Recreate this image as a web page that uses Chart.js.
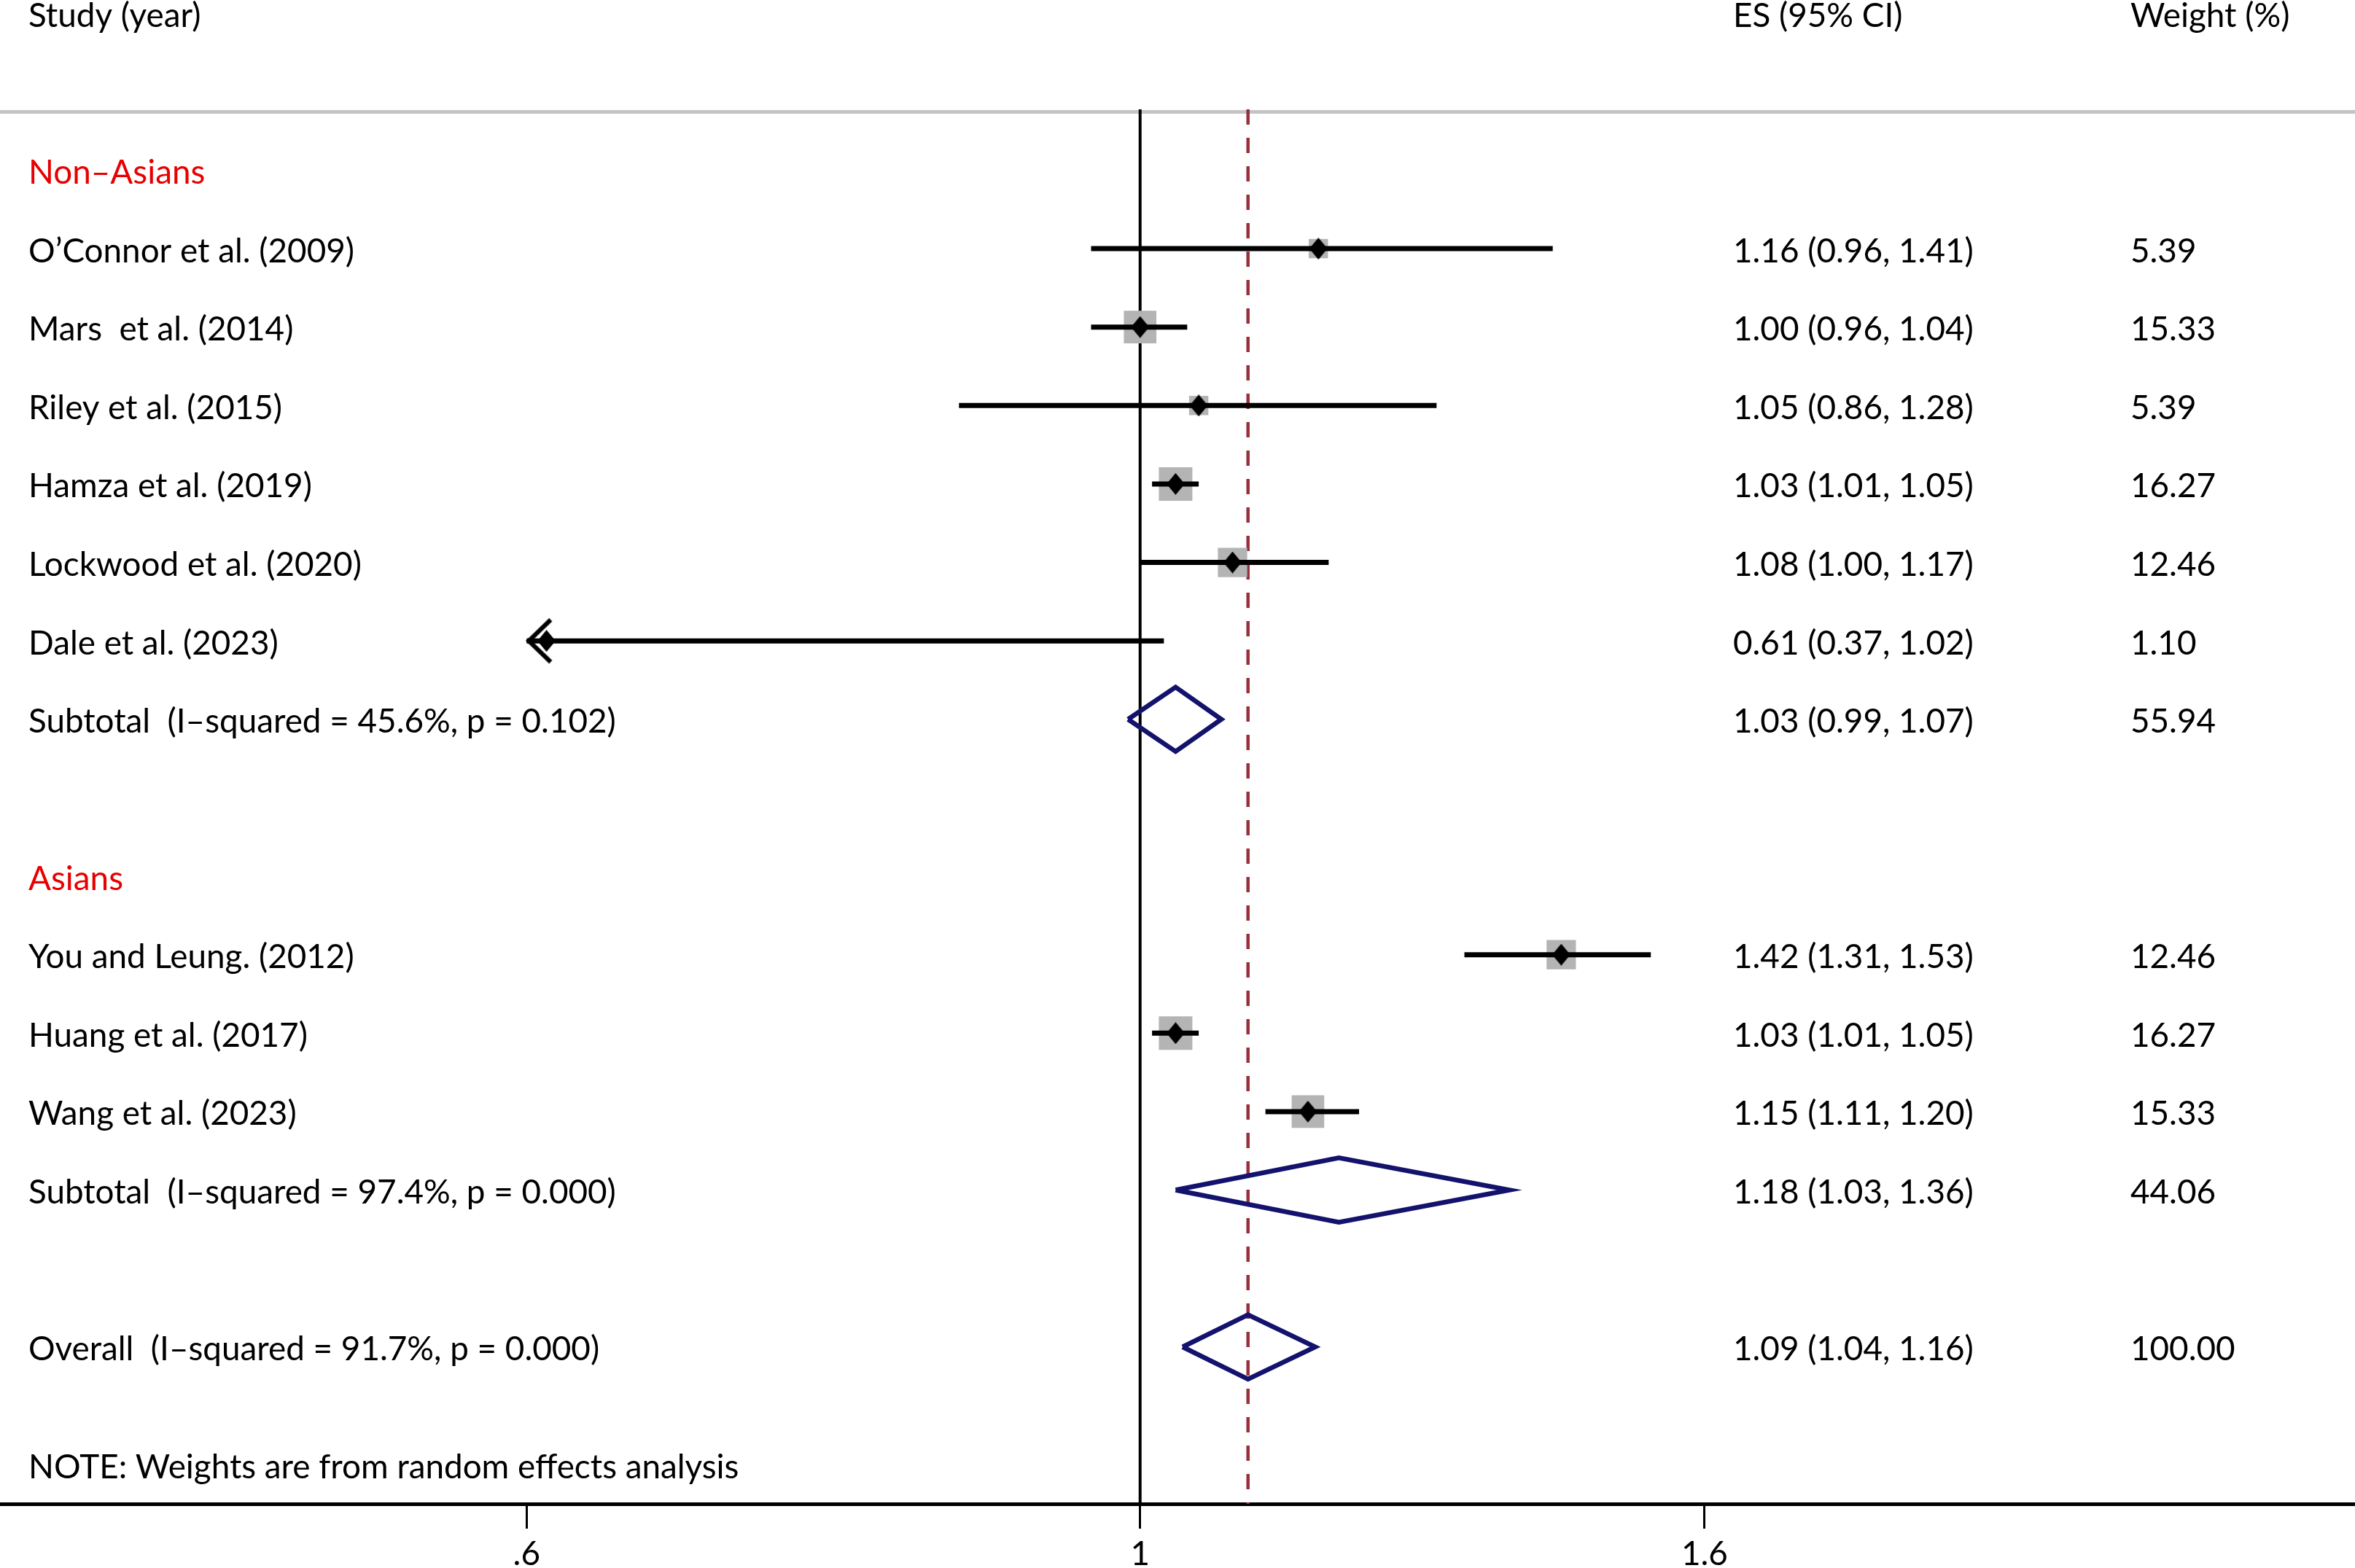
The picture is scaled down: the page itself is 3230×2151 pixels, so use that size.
<!DOCTYPE html>
<html>
<head>
<meta charset="utf-8">
<title>Forest plot</title>
<script src="https://cdn.jsdelivr.net/npm/chart.js@4.4.0/dist/chart.umd.min.js"></script>
<style>
  html, body { margin: 0; padding: 0; background: #fff; }
  #wrap { width: 3230px; height: 2151px; }
</style>
</head>
<body>
<div id="wrap"><canvas id="forest" width="3230" height="2151"></canvas></div>
<script>
// ---- data ----
const groupNames = ['Non–Asians', 'Asians'];
const studyNames = [
    'O’Connor et al. (2009)', 'Mars  et al. (2014)', 'Riley et al. (2015)',
    'Hamza et al. (2019)', 'Lockwood et al. (2020)', 'Dale et al. (2023)',
    'You and Leung. (2012)', 'Huang et al. (2017)', 'Wang et al. (2023)'
];
const studyGroup = [0, 0, 0, 0, 0, 0, 1, 1, 1];
const studyES = [1.16, 1.00, 1.05, 1.03, 1.08, 0.61, 1.42, 1.03, 1.15];
const studyLo = [0.96, 0.96, 0.86, 1.01, 1.00, 0.37, 1.31, 1.01, 1.11];
const studyHi = [1.41, 1.04, 1.28, 1.05, 1.17, 1.02, 1.53, 1.05, 1.20];
const studyWeight = [5.39, 15.33, 5.39, 16.27, 12.46, 1.10, 12.46, 16.27, 15.33];

// pooled estimates per subgroup
const subES = [1.03, 1.18];
const subLo = [0.99, 1.03];
const subHi = [1.07, 1.36];
const subWeight = [55.94, 44.06];
const subI2 = ['45.6%', '97.4%'];
const subP = ['0.102', '0.000'];

// overall pooled estimate: es, lo, hi, weight
const overall = [1.094, 1.036, 1.157, 100.00];
const overallI2 = '91.7%';
const overallP = '0.000';

const tickValues = [0.6, 1, 1.6];
const tickLabels = ['.6', '1', '1.6'];

// ---- layout ----
const X_MIN = 0.387, X_MAX = 2.75;
const Y_MIN = 0.225, Y_MAX = 18;
const CI_CLIP = tickValues[0];
const COL_STUDY = 39, COL_ES = 2377, COL_W = 2922;
const TEXT_DY = 2;
const DIAMOND_H = 0.41;
const NOTE = 'NOTE: Weights are from random effects analysis';

const FONT_FAMILY = 'Lato, "Open Sans", sans-serif';
const mctx = document.createElement('canvas').getContext('2d');
mctx.font = '100px ' + FONT_FAMILY;
const FONT_SIZE = Math.round(100 * 974 / mctx.measureText(NOTE).width * 10) / 10;

// rows: group header, studies, subtotal, blank line
const groupRow = [], studyRow = [], subRow = [];
let r = 1;
groupNames.forEach((g, gi) => {
    groupRow.push(r++);
    studyNames.forEach((s, i) => { if (studyGroup[i] === gi) studyRow[i] = r++; });
    subRow.push(r);
    r += 2;
});
const overallRow = r;
const noteRow = r + 1.5;
const headerRow = -1;

const fmt = (e, l, h) => e.toFixed(2) + ' (' + l.toFixed(2) + ', ' + h.toFixed(2) + ')';
const boxSide = w => 11.4 * Math.sqrt(w);

// marker images
function makeDiamond(w, h, color) {
    const c = document.createElement('canvas');
    c.width = w; c.height = h;
    const g = c.getContext('2d');
    g.fillStyle = color;
    g.beginPath();
    g.moveTo(w / 2, 0); g.lineTo(w, h / 2); g.lineTo(w / 2, h); g.lineTo(0, h / 2);
    g.closePath();
    g.fill();
    return c;
}
function makeArrow() {
    const c = document.createElement('canvas');
    c.width = 90; c.height = 90;
    const g = c.getContext('2d');
    g.strokeStyle = '#000';
    g.lineWidth = 6;
    g.lineJoin = 'miter';
    g.beginPath();
    g.moveTo(45 + 33, 45 - 29);
    g.lineTo(45 + 3, 45);
    g.lineTo(45 + 33, 45 + 29);
    g.stroke();
    return c;
}
const diamondImg = makeDiamond(25, 30, '#000');
const arrowImg = makeArrow();

// ---- datasets ----
const datasets = [];
// null line
datasets.push({
    data: [{ x: 1, y: Y_MIN }, { x: 1, y: Y_MAX }],
    showLine: true, borderColor: '#000', borderWidth: 4, pointRadius: 0, order: 10
});
// overall effect line
datasets.push({
    data: [{ x: overall[0], y: Y_MIN }, { x: overall[0], y: Y_MAX }],
    showLine: true, borderColor: '#98303c', borderWidth: 4.5, borderDash: [21, 18], pointRadius: 0, order: 9
});
// weight boxes
datasets.push({
    data: studyES.map((v, i) => ({ x: v, y: studyRow[i] })),
    pointStyle: 'rect',
    pointRadius: c => boxSide(studyWeight[c.dataIndex]) / Math.SQRT2,
    backgroundColor: '#b4b4b4', borderWidth: 0, order: 8
});
// confidence intervals
studyES.forEach((v, i) => {
    datasets.push({
        data: [{ x: Math.max(studyLo[i], CI_CLIP), y: studyRow[i] }, { x: studyHi[i], y: studyRow[i] }],
        showLine: true, borderColor: '#000', borderWidth: 7, pointRadius: 0, order: 7
    });
});
// arrows where the CI runs off the axis
datasets.push({
    data: studyLo.map((v, i) => v < CI_CLIP ? { x: CI_CLIP, y: studyRow[i] } : null).filter(Boolean),
    pointStyle: arrowImg, pointRadius: 1, order: 6
});
// point estimates
datasets.push({
    data: studyES.map((v, i) => ({ x: v, y: studyRow[i] })),
    pointStyle: diamondImg, pointRadius: 1, order: 5
});
// pooled diamonds
const pooled = subES.map((v, i) => [v, subLo[i], subHi[i], subRow[i]]);
pooled.push([overall[0], overall[1], overall[2], overallRow]);
pooled.forEach(p => {
    const [e, l, h, row] = p;
    datasets.push({
        data: [
            { x: l, y: row }, { x: e, y: row - DIAMOND_H }, { x: h, y: row },
            { x: e, y: row + DIAMOND_H }, { x: l, y: row }
        ],
        showLine: true, borderColor: '#13136d', borderWidth: 6.5, borderJoinStyle: 'miter',
        fill: false, pointRadius: 0, order: 4
    });
});

// ---- text columns ----
const tablePlugin = {
    id: 'forestTable',
    beforeDatasetsDraw(chart) {
        const ctx = chart.ctx;
        ctx.save();
        ctx.fillStyle = '#c4c4c4';
        ctx.fillRect(0, chart.chartArea.top + 1, chart.width, 5);
        ctx.restore();
    },
    afterDraw(chart) {
        const ctx = chart.ctx;
        const ys = chart.scales.y;
        ctx.save();
        ctx.font = FONT_SIZE + 'px ' + FONT_FAMILY;
        ctx.textAlign = 'left';
        ctx.textBaseline = 'alphabetic';
        const cap = ctx.measureText('H').actualBoundingBoxAscent;
        const put = (text, x, row, color) => {
            ctx.fillStyle = color || '#000';
            ctx.fillText(text, x, ys.getPixelForValue(row) + TEXT_DY + cap / 2);
        };
        put('Study (year)', COL_STUDY, headerRow);
        put('ES (95% CI)', COL_ES, headerRow);
        put('Weight (%)', COL_W, headerRow);
        groupNames.forEach((g, gi) => {
            put(g, COL_STUDY, groupRow[gi], '#e80000');
            put('Subtotal  (I–squared = ' + subI2[gi] + ', p = ' + subP[gi] + ')', COL_STUDY, subRow[gi]);
            put(fmt(subES[gi], subLo[gi], subHi[gi]), COL_ES, subRow[gi]);
            put(subWeight[gi].toFixed(2), COL_W, subRow[gi]);
        });
        studyNames.forEach((s, i) => {
            put(s, COL_STUDY, studyRow[i]);
            put(fmt(studyES[i], studyLo[i], studyHi[i]), COL_ES, studyRow[i]);
            put(studyWeight[i].toFixed(2), COL_W, studyRow[i]);
        });
        put('Overall  (I–squared = ' + overallI2 + ', p = ' + overallP + ')', COL_STUDY, overallRow);
        put(fmt(overall[0], overall[1], overall[2]), COL_ES, overallRow);
        put(overall[3].toFixed(2), COL_W, overallRow);
        put(NOTE, COL_STUDY, noteRow);
        ctx.restore();
    }
};

new Chart(document.getElementById('forest'), {
    type: 'scatter',
    data: { datasets: datasets },
    options: {
        responsive: false,
        devicePixelRatio: 1,
        animation: false,
        events: [],
        layout: { autoPadding: false, padding: { top: 150, left: 0, right: 0, bottom: 0 } },
        plugins: { legend: { display: false }, tooltip: { enabled: false } },
        scales: {
            x: {
                type: 'logarithmic',
                position: 'bottom',
                min: X_MIN,
                max: X_MAX,
                bounds: 'data',
                afterBuildTicks: s => { s.ticks = tickValues.map(v => ({ value: v })); },
                afterFit: s => { s.height = 88; },
                ticks: {
                    callback: (v, i) => tickLabels[i],
                    font: { family: FONT_FAMILY, size: FONT_SIZE, lineHeight: 1.2 },
                    color: '#000',
                    padding: 8,
                    maxRotation: 0,
                    autoSkip: false
                },
                grid: { drawOnChartArea: false, drawTicks: true, tickLength: 34, tickWidth: 3, tickColor: '#000' },
                border: { display: true, color: '#000', width: 5 }
            },
            y: {
                type: 'linear',
                reverse: true,
                min: Y_MIN,
                max: Y_MAX,
                display: false
            }
        }
    },
    plugins: [tablePlugin]
});
</script>
</body>
</html>
